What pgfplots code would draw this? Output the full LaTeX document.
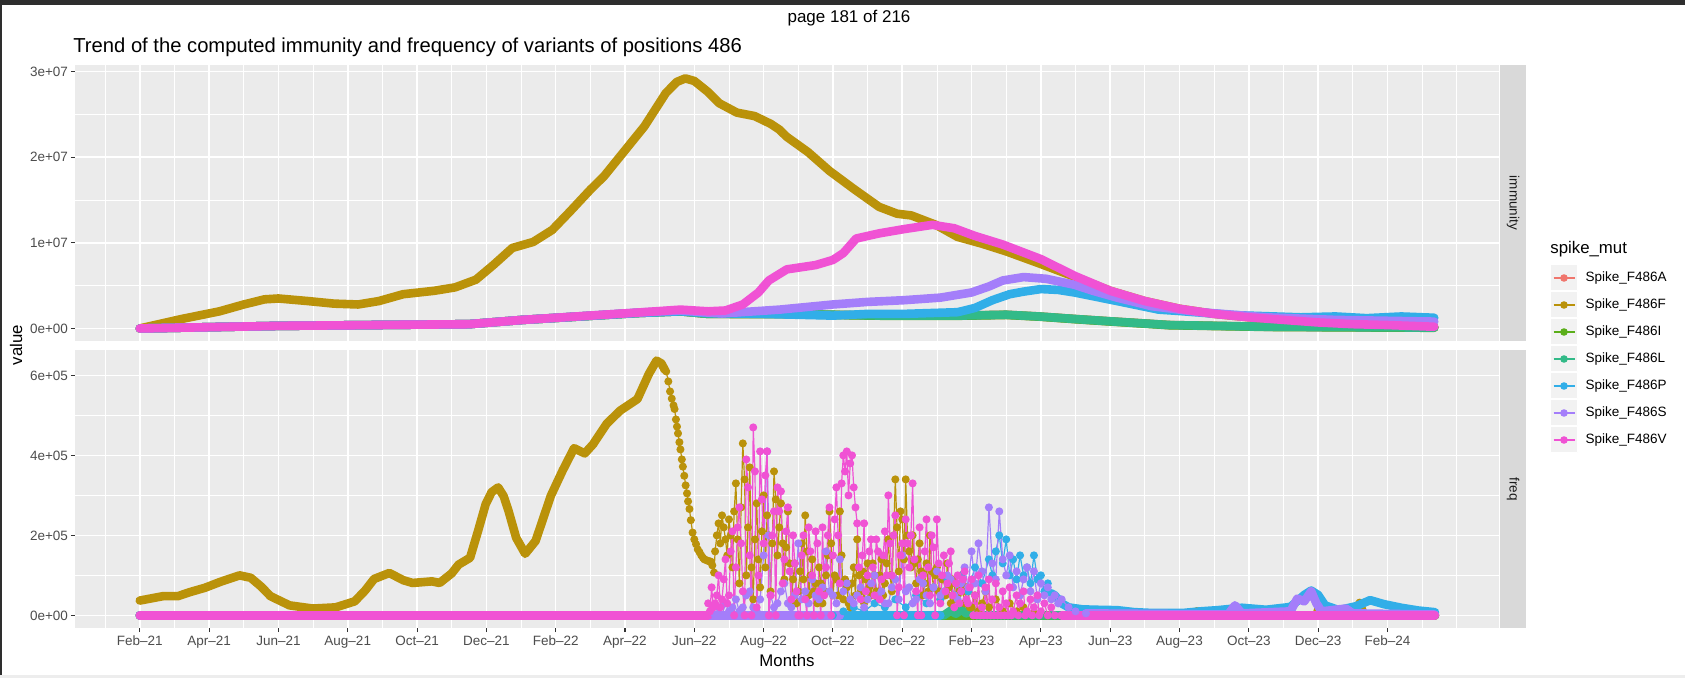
\documentclass[border=0pt]{standalone}
\usepackage{fontspec}
\setmainfont{Liberation Sans}
\usepackage{pgfplots}
\pgfplotsset{compat=1.18}
\definecolor{cA}{HTML}{F0766D}
\definecolor{cF}{HTML}{BA920A}
\definecolor{cI}{HTML}{5BAE1A}
\definecolor{cL}{HTML}{32BA88}
\definecolor{cP}{HTML}{31AEE8}
\definecolor{cS}{HTML}{A47EFA}
\definecolor{cV}{HTML}{F052D4}
\definecolor{gray92}{HTML}{EBEBEB}
\definecolor{gray95}{HTML}{F2F2F2}
\definecolor{gray85}{HTML}{D9D9D9}
\definecolor{gray30}{HTML}{4D4D4D}
\definecolor{gray20}{HTML}{333333}
\definecolor{gray10}{HTML}{1A1A1A}
\pgfplotsset{
  gg/.style={
    scale only axis, width=712pt,
    xmin=-1.87, xmax=39.22,
    axis background/.style={fill=gray92},
    axis line style={draw=none},
    grid=both,
    major grid style={white, line width=0.8pt},
    minor grid style={white, line width=0.4pt},
    xtick={0,2,4,6,8,10,12,14,16,18,20,22,24,26,28,30,32,34,36},
    minor xtick={-1,1,3,5,7,9,11,13,15,17,19,21,23,25,27,29,31,33,35,37,38},
    tick align=outside, tick pos=left,
    major tick length=2.1pt, minor tick length=0pt,
    tick style={gray20, line width=0.55pt},
    ticklabel style={font=\fontsize{6.75}{8}\selectfont, text=gray30},
    yticklabel style={inner xsep=1.2pt},
    xticklabel style={inner ysep=1.5pt},
  },
  thickl/.style={line width=4.3pt, line cap=round, line join=round, mark=none},
  spiky/.style={line width=0.6pt, line join=round, mark=*, mark size=1.7pt, mark options={solid}},
}
\begin{document}
\begin{tikzpicture}
\fill[white] (0pt,0pt) rectangle (842.5pt,-339pt);
\path[use as bounding box] (0pt,0pt) rectangle (842.5pt,-339pt);
\fill[black!82] (0pt,0pt) rectangle (842.5pt,-2.5pt);
\fill[black!82] (0pt,0pt) rectangle (1pt,-339pt);
\fill[black!7] (0pt,-337.5pt) rectangle (842.5pt,-339pt);

% ---------------- top panel: immunity (units 1e7)
\begin{axis}[gg, at={(37.5pt,-32.5pt)}, anchor=north west, height=138pt,
  ymin=-0.1465, ymax=3.0765,
  ytick={0,1,2,3}, yticklabels={0e+00,1e+07,2e+07,3e+07},
  minor ytick={0.5,1.5,2.5},
  xticklabels={}, xtick style={draw=none},
  legend style={at={(1.0358,0.2772)}, anchor=north west, draw=none, fill=none,
    inner sep=0pt, outer sep=0pt, row sep=0pt, column sep=1.75pt,
    font=\fontsize{6.75}{8}\selectfont, text=black},
  legend cell align=left,
  legend image code/.code={
    \filldraw[fill=gray95, draw=white, line width=0.5pt] (0pt,-6.5pt) rectangle (13.5pt,6.5pt);
    \draw[#1, line width=0.7pt, line cap=butt] (1.5pt,0pt) -- (12pt,0pt);
    \fill[#1, draw=none, line width=0pt] (6.75pt,0pt) circle (1.9pt);
  },
]
\addplot[cA, thickl] coordinates {(0,0) (4,0.03) (9.5,0.05) (11.05,0.10) (14.34,0.18) (15.6,0.20) (16.4,0.17) (18.46,0.17) (21.5,0.15) (23.6,0.15) (25.0,0.16) (25.95,0.14) (27.0,0.11) (27.75,0.09) (29.7,0.04) (32.5,0.02) (37.35,0.01)};
\addlegendentry{Spike\_F486A}
\addplot[cF, thickl] coordinates {(0,0.00) (1.2,0.11) (2.3,0.20) (3.0,0.28) (3.6,0.34) (4.0,0.35) (4.85,0.32) (5.6,0.29) (6.3,0.28) (6.9,0.32) (7.6,0.40) (8.5,0.44) (9.1,0.48) (9.7,0.57) (10.2,0.74) (10.75,0.94) (11.35,1.01) (11.9,1.15) (12.4,1.36) (13.0,1.62) (13.4,1.78) (14.0,2.08) (14.56,2.36) (15.18,2.75) (15.5,2.88) (15.74,2.92) (16.0,2.89) (16.4,2.76) (16.72,2.63) (17.23,2.52) (17.74,2.48) (18.2,2.39) (18.46,2.32) (18.66,2.24) (19.28,2.06) (19.9,1.84) (20.6,1.63) (21.33,1.42) (21.85,1.34) (22.26,1.32) (22.97,1.21) (23.59,1.07) (24.3,0.99) (25.0,0.90) (25.95,0.76) (27.0,0.60) (28.0,0.44) (29.0,0.32) (30.0,0.23) (31.0,0.17) (32.0,0.13) (33.0,0.10) (34.0,0.07) (35.0,0.05) (36.0,0.04) (37.35,0.02)};
\addlegendentry{Spike\_F486F}
\addplot[cI, thickl] coordinates {(0,0) (4,0.03) (9.5,0.05) (11.05,0.10) (14.34,0.18) (15.6,0.20) (16.4,0.17) (18.46,0.168) (21.5,0.148) (23.6,0.148) (25.0,0.158) (25.95,0.138) (27.0,0.108) (27.75,0.088) (29.7,0.038) (32.5,0.018) (37.35,0.008)};
\addlegendentry{Spike\_F486I}
\addplot[cL, thickl] coordinates {(0,0) (4,0.03) (9.5,0.05) (11.05,0.10) (14.34,0.18) (15.6,0.20) (16.4,0.17) (18.46,0.17) (21.5,0.15) (23.6,0.15) (25.0,0.16) (25.95,0.14) (27.0,0.11) (27.75,0.09) (29.7,0.04) (32.5,0.02) (37.35,0.01)};
\addlegendentry{Spike\_F486L}
\addplot[cP, thickl] coordinates {(0,0) (4,0.03) (9.5,0.05) (11.05,0.10) (14.34,0.18) (15.6,0.20) (16.4,0.18) (17.95,0.17) (20.0,0.15) (21.0,0.17) (22.05,0.17) (23.6,0.19) (24.1,0.24) (24.6,0.33) (25.1,0.40) (25.5,0.43) (26.0,0.46) (26.5,0.45) (26.97,0.42) (28.2,0.32) (29.4,0.22) (29.95,0.205) (31.6,0.155) (33.5,0.13) (34.5,0.14) (35.4,0.12) (36.4,0.14) (37.35,0.125)};
\addlegendentry{Spike\_F486P}
\addplot[cS, thickl] coordinates {(0,0) (4,0.03) (9.5,0.05) (11.05,0.10) (14.34,0.185) (15.6,0.21) (16.4,0.185) (16.8,0.175) (18.46,0.22) (20.0,0.28) (21.0,0.31) (22.05,0.33) (23.1,0.36) (24.0,0.42) (24.5,0.49) (24.9,0.56) (25.5,0.60) (26.15,0.58) (26.97,0.51) (27.5,0.44) (28.2,0.36) (29.2,0.26) (30.6,0.19) (32.5,0.13) (34.5,0.10) (37.35,0.08)};
\addlegendentry{Spike\_F486S}
\addplot[cV, thickl] coordinates {(0,0.0) (4.0,0.03) (9.5,0.05) (11.05,0.10) (14.34,0.185) (15.6,0.22) (16.4,0.20) (16.9,0.21) (17.4,0.28) (17.85,0.42) (18.15,0.56) (18.67,0.69) (19.5,0.74) (20.0,0.80) (20.3,0.88) (20.67,1.05) (21.33,1.11) (22.05,1.16) (22.87,1.21) (23.5,1.17) (24.1,1.08) (24.9,0.98) (26.0,0.81) (27.0,0.61) (28.0,0.44) (29.0,0.32) (30.0,0.23) (31.0,0.17) (32.0,0.13) (33.0,0.10) (34.0,0.07) (35.0,0.05) (36.0,0.04) (37.35,0.02)};
\addlegendentry{Spike\_F486V}
\end{axis}

% ---------------- bottom panel: freq (units 1e5)
\begin{axis}[gg, at={(37.5pt,-175pt)}, anchor=north west, height=139pt,
  ymin=-0.316, ymax=6.636,
  ytick={0,2,4,6}, yticklabels={0e+00,2e+05,4e+05,6e+05},
  minor ytick={1,3,5},
  xticklabels={Feb--21,Apr--21,Jun--21,Aug--21,Oct--21,Dec--21,Feb--22,Apr--22,Jun--22,Aug--22,Oct--22,Dec--22,Feb--23,Apr--23,Jun--23,Aug--23,Oct--23,Dec--23,Feb--24},
]
% A
\addplot[cA, thickl] coordinates {(0,0) (37.37,0)};
% F
\addplot[cF, thickl] coordinates {(0,0.37) (0.67,0.48) (1.1,0.48) (1.44,0.58) (1.88,0.69) (2.33,0.84) (2.88,1.0) (3.2,0.94) (3.5,0.72) (3.77,0.48) (4.32,0.25) (4.99,0.17) (5.65,0.20) (6.2,0.35) (6.5,0.62) (6.76,0.91) (7.2,1.06) (7.6,0.88) (7.87,0.81) (8.43,0.85) (8.65,0.81) (9.0,1.05) (9.2,1.27) (9.53,1.44) (9.76,2.11) (9.98,2.78) (10.15,3.08) (10.34,3.2) (10.5,2.98) (10.64,2.61) (10.86,1.94) (11.12,1.54) (11.42,1.86) (11.86,2.99) (12.2,3.62) (12.53,4.18) (12.84,4.05) (13.08,4.28) (13.47,4.79) (13.86,5.12) (14.36,5.41) (14.69,6.04) (14.91,6.37) (15.05,6.3) (15.15,6.14)};
\addplot[cF, spiky] coordinates {(15.15,6.14) (15.19,6.1) (15.25,5.85) (15.3,5.6) (15.35,5.42) (15.4,5.25) (15.43,5.16) (15.47,4.9) (15.5,4.72) (15.53,4.55) (15.57,4.33) (15.6,4.15) (15.64,3.9) (15.67,3.72) (15.71,3.49) (15.75,3.25) (15.79,3.05) (15.82,2.85) (15.86,2.66) (15.9,2.38) (15.95,2.07) (16.0,1.9) (16.05,1.78) (16.1,1.65) (16.15,1.58) (16.2,1.5) (16.25,1.44) (16.29,1.40) (16.35,1.38) (16.4,1.36) (16.45,1.35) (16.48,1.34) (16.52,1.25) (16.57,1.07) (16.6,1.6) (16.65,2.0) (16.7,2.3) (16.75,1.8) (16.8,2.5) (16.85,2.2) (16.9,1.9) (16.95,1.5) (17.0,2.4) (17.05,2.0) (17.1,1.2) (17.15,2.6) (17.2,3.3) (17.25,1.9) (17.3,0.8) (17.35,2.7) (17.4,4.3) (17.45,3.4) (17.5,1.0) (17.55,2.2) (17.6,3.7) (17.65,1.2) (17.7,0.4) (17.75,1.9) (17.8,2.8) (17.85,1.4) (17.9,0.7) (17.95,2.1) (18.0,3.0) (18.05,1.2) (18.1,2.5) (18.15,2.0) (18.2,0.6) (18.25,1.8) (18.3,3.6) (18.35,2.9) (18.4,1.5) (18.45,2.2) (18.5,2.8) (18.55,1.8) (18.6,0.9) (18.65,1.7) (18.7,2.6) (18.75,1.3) (18.8,0.3) (18.85,0.9) (18.9,1.3) (18.95,0.3) (19.0,0.6) (19.05,1.1) (19.1,1.8) (19.15,0.9) (19.2,2.5) (19.25,1.6) (19.3,0.5) (19.35,1.0) (19.4,1.4) (19.45,0.6) (19.5,0.8) (19.55,0.3) (19.6,1.2) (19.65,0.8) (19.7,0.3) (19.75,0.6) (19.8,1.0) (19.85,1.5) (19.9,2.6) (19.95,1.8) (20.0,0.5) (20.05,1.0) (20.1,0.9) (20.15,0.5) (20.2,2.6) (20.25,1.5) (20.3,0.4) (20.35,0.9) (20.4,0.7) (20.45,0.3) (20.5,0.2) (20.55,0.8) (20.6,1.2) (20.65,0.5) (20.7,1.9) (20.75,1.0) (20.8,0.6) (20.85,1.1) (20.9,0.3) (20.95,0.9) (21.0,1.3) (21.05,0.7) (21.1,0.5) (21.15,1.3) (21.2,1.0) (21.25,0.6) (21.3,0.4) (21.35,1.0) (21.4,1.4) (21.45,0.5) (21.5,0.8) (21.55,1.3) (21.6,1.9) (21.65,1.0) (21.7,0.6) (21.75,2.0) (21.8,3.4) (21.85,2.2) (21.9,1.1) (21.95,2.6) (22.0,2.4) (22.05,1.4) (22.1,3.4) (22.15,2.0) (22.2,1.6) (22.25,1.2) (22.3,2.0) (22.35,1.3) (22.4,0.8) (22.45,1.4) (22.5,1.8) (22.55,1.1) (22.6,0.5) (22.65,0.8) (22.7,1.3) (22.75,0.6) (22.8,2.0) (22.85,1.1) (22.9,0.7) (22.95,1.0) (23.0,1.2) (23.05,0.6) (23.1,0.4) (23.15,0.9) (23.2,0.9) (23.25,0.5) (23.3,1.3) (23.35,0.7) (23.4,0.3) (23.45,0.9) (23.5,0.8) (23.55,0.4) (23.6,0.5) (23.65,0.6) (23.7,1.0) (23.75,0.6) (23.8,0.3) (23.85,0.7) (23.9,0.6) (23.95,0.2) (24.0,0.2) (24.1,0.5) (24.2,0.1) (24.3,0.3) (24.4,0.6) (24.5,0.2) (24.7,0.4) (24.9,0.1) (25.1,0.3) (25.3,0.1) (25.5,0.2) (25.8,0.05) (26.2,0.0)};
\addplot[cF, thickl] coordinates {(26.2,0) (30.35,0) (30.5,0.1) (30.65,0) (33.95,0) (34.07,0.31) (34.2,0) (35.08,0) (35.2,0.31) (35.32,0) (37.37,0)};
% I
\addplot[cI, thickl] coordinates {(0,0) (37.37,0)};
% L
\addplot[cL, thickl] coordinates {(0,0) (23.2,0) (23.4,0.12) (23.55,0.04) (23.7,0.15) (23.85,0.05) (24.0,0.12) (24.15,0) (37.37,0)};
% P
\addplot[cP, thickl] coordinates {(0,0) (23.1,0)};
\addplot[cP, spiky] coordinates {(20.0,0.0) (20.3,0.1) (20.6,0.2) (20.9,0.1) (21.2,0.3) (21.5,0.2) (21.8,0.4) (22.1,0.2) (22.4,0.5) (22.7,0.3) (22.9,0.7) (23.1,0.4) (23.3,0.9) (23.5,0.5) (23.7,1.0) (23.9,0.6) (24.1,1.2) (24.3,0.8) (24.5,1.4) (24.6,1.0) (24.7,1.6) (24.8,2.0) (24.9,1.3) (25.0,1.9) (25.1,1.0) (25.2,1.4) (25.3,0.9) (25.4,1.5) (25.5,1.0) (25.6,1.2) (25.7,0.8) (25.8,1.5) (25.9,0.9) (26.0,1.0) (26.1,0.6) (26.2,0.8) (26.3,0.55)};
\addplot[cP, thickl] coordinates {(26.3,0.55) (26.4,0.5) (26.6,0.3) (26.8,0.2) (27.2,0.15) (27.6,0.14) (28.2,0.13) (28.7,0.08) (29.2,0.06) (30.1,0.06) (30.6,0.1) (31.1,0.13) (31.8,0.19) (32.5,0.14) (33.2,0.21) (33.6,0.51) (33.8,0.62) (34.0,0.51) (34.2,0.25) (34.6,0.13) (35.1,0.23) (35.5,0.38) (35.9,0.28) (36.4,0.19) (36.9,0.12) (37.37,0.08)};
% S
\addplot[cS, thickl] coordinates {(0,0) (20.2,0)};
\addplot[cS, spiky] coordinates {(16.5,0.1) (16.6,0.0) (16.7,0.2) (16.8,0.0) (16.9,0.3) (17.0,0.1) (17.1,0.2) (17.2,0.4) (17.3,0.1) (17.4,0.2) (17.5,0.5) (17.6,0.6) (17.7,0.2) (17.8,0.1) (17.9,0.4) (18.0,1.5) (18.1,4.1) (18.15,2.0) (18.2,0.5) (18.3,0.2) (18.4,0.3) (18.5,0.6) (18.6,0.8) (18.7,0.3) (18.8,0.2) (18.9,0.5) (19.0,1.8) (19.1,0.4) (19.2,0.6) (19.3,0.3) (19.4,0.9) (19.5,0.5) (19.6,0.4) (19.7,0.7) (19.8,1.6) (19.9,0.6) (20.0,0.5) (20.1,0.3) (20.2,1.4) (20.3,0.6) (20.4,0.8) (20.5,0.4) (20.6,0.3) (20.7,0.5) (20.8,0.7) (20.9,0.2) (21.0,0.4) (21.1,0.8) (21.2,1.0) (21.3,0.5) (21.4,0.6) (21.5,0.3) (21.6,0.3) (21.7,0.7) (21.8,0.9) (21.9,0.4) (22.0,1.5) (22.1,0.6) (22.2,0.7) (22.3,0.3) (22.4,0.4) (22.5,0.9) (22.6,0.8) (22.7,0.5) (22.8,0.3) (22.9,0.7) (23.0,1.1) (23.1,0.5) (23.2,0.6) (23.3,1.0) (23.4,0.9) (23.5,0.5) (23.6,0.4) (23.7,0.8) (23.8,1.2) (23.9,0.7) (24.0,1.6) (24.1,0.8) (24.2,1.8) (24.3,1.1) (24.4,0.6) (24.5,2.7) (24.6,1.3) (24.7,0.9) (24.8,2.6) (24.9,1.4) (25.0,1.0) (25.1,1.5) (25.2,0.7) (25.3,1.1) (25.4,0.5) (25.5,0.9) (25.6,1.2) (25.7,0.6) (25.8,1.1) (25.9,0.4) (26.0,0.8) (26.1,0.5) (26.2,0.7) (26.3,0.4) (26.4,0.5) (26.5,0.3) (26.6,0.4) (26.8,0.2) (27.0,0.1) (27.3,0.05)};
\addplot[cS, thickl] coordinates {(27.3,0.05) (31.4,0.02) (31.6,0.25) (31.8,0.05) (33.2,0.1) (33.4,0.42) (33.6,0.35) (33.8,0.6) (33.95,0.3) (34.1,0.1) (34.8,0.17) (35.0,0.05) (37.37,0.02)};
% V
\addplot[cV, thickl] coordinates {(0,0) (16.4,0)};
\addplot[cV, spiky] coordinates {(16.4,0.3) (16.45,0.1) (16.5,0.7) (16.55,0.2) (16.6,0.3) (16.65,0.5) (16.7,1.0) (16.75,0.2) (16.8,0.4) (16.85,0.9) (16.9,1.4) (16.95,0.3) (17.0,0.5) (17.05,1.6) (17.1,2.1) (17.15,0.0) (17.2,1.2) (17.25,2.2) (17.3,2.7) (17.35,1.8) (17.4,0.6) (17.45,0.0) (17.5,3.9) (17.55,3.2) (17.6,1.5) (17.65,0.0) (17.7,4.7) (17.75,3.6) (17.8,0.2) (17.85,1.0) (17.9,4.1) (17.95,2.9) (18.0,1.8) (18.05,3.5) (18.1,4.1) (18.15,0.0) (18.2,0.5) (18.25,2.0) (18.3,2.6) (18.35,0.0) (18.4,3.2) (18.45,2.6) (18.5,3.1) (18.55,0.8) (18.6,1.4) (18.65,2.1) (18.7,2.7) (18.75,1.1) (18.8,0.4) (18.85,2.0) (18.9,1.3) (18.95,0.6) (19.0,0.0) (19.05,0.0) (19.1,1.5) (19.15,2.0) (19.2,0.4) (19.25,0.0) (19.3,2.2) (19.35,1.6) (19.4,1.0) (19.45,0.0) (19.5,2.1) (19.55,1.8) (19.6,0.6) (19.65,0.0) (19.7,2.2) (19.75,0.5) (19.8,1.2) (19.85,2.0) (19.9,2.7) (19.95,0.0) (20.0,1.5) (20.05,2.4) (20.1,3.2) (20.15,2.0) (20.2,0.8) (20.25,3.3) (20.3,4.0) (20.35,3.6) (20.4,4.1) (20.45,3.0) (20.5,3.8) (20.55,4.0) (20.6,3.2) (20.65,2.7) (20.7,2.3) (20.75,1.2) (20.8,0.4) (20.85,1.5) (20.9,2.3) (20.95,0.6) (21.0,1.0) (21.05,1.6) (21.1,1.9) (21.15,1.2) (21.2,0.5) (21.25,1.9) (21.3,1.6) (21.35,0.4) (21.4,0.9) (21.45,1.5) (21.5,2.1) (21.55,1.0) (21.6,3.0) (21.65,1.8) (21.7,1.0) (21.75,2.0) (21.8,2.5) (21.85,0.0) (21.9,0.7) (21.95,1.5) (22.0,1.8) (22.05,0.0) (22.1,2.4) (22.15,1.8) (22.2,1.2) (22.25,2.0) (22.3,3.3) (22.35,1.4) (22.4,0.6) (22.45,0.0) (22.5,2.2) (22.55,0.0) (22.6,1.0) (22.65,1.6) (22.7,2.4) (22.75,1.2) (22.8,0.5) (22.85,2.0) (22.9,1.7) (22.95,0.0) (23.0,2.4) (23.05,1.3) (23.1,0.3) (23.15,1.0) (23.2,1.5) (23.25,0.6) (23.3,0.8) (23.35,1.3) (23.4,1.6) (23.45,0.5) (23.5,0.2) (23.55,0.8) (23.6,1.0) (23.65,0.3) (23.7,0.6) (23.75,0.9) (23.8,1.1) (23.85,0.4) (23.9,0.3) (23.95,0.7) (24.0,0.9) (24.05,0.0) (24.1,0.5) (24.15,0.0) (24.2,1.0) (24.25,0.0) (24.3,0.2) (24.35,0.0) (24.4,0.7) (24.45,0.0) (24.5,0.9) (24.55,0.0) (24.6,0.4) (24.65,0.0) (24.7,0.8) (24.75,0.0) (24.8,0.2) (24.85,0.0) (24.9,0.6) (24.95,0.0) (25.0,0.3) (25.05,0.0) (25.1,0.7) (25.15,0.0) (25.2,0.1) (25.3,0.5) (25.35,0.0) (25.4,0.3) (25.5,0.6) (25.55,0.0) (25.6,0.1) (25.7,0.4) (25.75,0.0) (25.8,0.2) (25.9,0.5) (25.95,0.0) (26.0,0.1) (26.1,0.3) (26.2,0.0) (26.3,0.2) (26.4,0.0) (26.6,0.0)};
\addplot[cV, thickl] coordinates {(26.6,0) (37.37,0)};
\end{axis}

% strips
\fill[gray85] (750pt,-32.5pt) rectangle (763pt,-170.5pt);
\node[rotate=-90, font=\fontsize{6.75}{8}\selectfont, text=gray10] at (756.5pt,-101.5pt) {immunity};
\fill[gray85] (750pt,-175pt) rectangle (763pt,-314pt);
\node[rotate=-90, font=\fontsize{6.75}{8}\selectfont, text=gray10] at (756.5pt,-244.5pt) {freq};

% texts
\node[font=\fontsize{8.5}{10}\selectfont, inner sep=0pt] at (424.5pt,-9pt) {page 181 of 216};
\node[anchor=west, font=\fontsize{10.1}{12}\selectfont, inner sep=0pt] at (36.5pt,-23.5pt) {Trend of the computed immunity and frequency of variants of positions 486};
\node[font=\fontsize{8.4}{10}\selectfont, inner sep=0pt] at (393.5pt,-330pt) {Months};
\node[rotate=90, font=\fontsize{8.4}{10}\selectfont, inner sep=0pt] at (8pt,-172.5pt) {value};
\node[anchor=west, font=\fontsize{8.4}{10}\selectfont, inner sep=0pt] at (775pt,-124.5pt) {spike\_mut};
\end{tikzpicture}
\end{document}
